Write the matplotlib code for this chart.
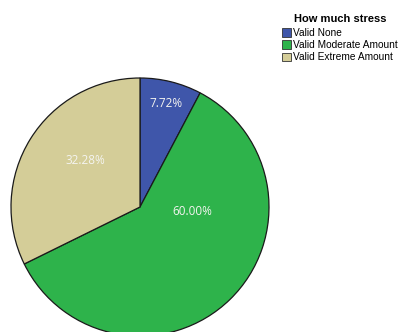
import matplotlib
matplotlib.use("Agg")
import matplotlib.pyplot as plt
from matplotlib import patches
import numpy as np

categories = ["Valid None", "Valid Moderate Amount", "Valid Extreme Amount"]
percents = [7.72, 60.00, 32.28]
colors = ["#3F56AA", "#2EB34B", "#D4CD98"]
legend_title = "How much stress"

fig = plt.figure(figsize=(4.01, 3.32), dpi=100)
ax = fig.add_axes([0, 0, 1, 1])

center = (140, 332 - 207)
radius = 129
wedges, _ = ax.pie(percents, colors=colors, startangle=90, counterclock=False,
                   center=center, radius=radius, frame=True,
                   wedgeprops=dict(edgecolor="#1a1a1a", linewidth=0.9))
ax.set_xlim(0, 401)
ax.set_ylim(0, 332)
ax.set_aspect("equal")
ax.axis("off")

# label placement (fraction of radius, angle in degrees), like SPSS output
label_pos = [(0.83, 76), (0.41, -5), (0.56, 139.5)]
for p, (d, a) in zip(percents, label_pos):
    x = center[0] + d * radius * np.cos(np.radians(a))
    y = center[1] + d * radius * np.sin(np.radians(a))
    ax.text(x, y, f"{p:.2f}%", ha="center", va="center", color="#f4f4f0",
            fontsize=8.5, family="Open Sans")

handles = [patches.Patch(facecolor=c, edgecolor="#333333", linewidth=0.6, label=l)
           for c, l in zip(colors, categories)]
leg = fig.legend(handles=handles, title=legend_title, loc="upper left",
                 bbox_to_anchor=(282 / 401, 1 - 14 / 332), frameon=False,
                 prop=dict(family="Liberation Sans", size=7.3), handlelength=0.9,
                 handleheight=0.9, handletextpad=0.2, labelspacing=0.2,
                 borderaxespad=0, borderpad=0)
leg.get_title().set_fontweight("bold")
leg.get_title().set_fontsize(8)
leg.get_title().set_family("Liberation Sans")
leg._legend_box.sep = 3

fig.savefig("out.png", dpi=100)
